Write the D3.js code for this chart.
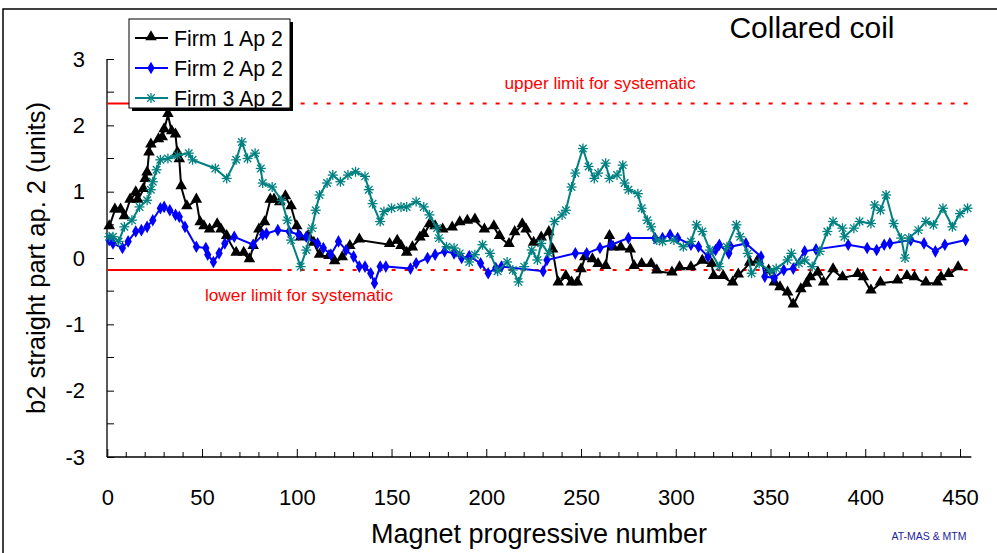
<!DOCTYPE html>
<html><head><meta charset="utf-8">
<script src="https://cdn.jsdelivr.net/npm/d3@7"></script>
<style>body{margin:0;background:#fff}svg{display:block;font-family:"Liberation Sans",Arial,sans-serif}</style>
</head><body><svg id="c" width="997" height="553"></svg>
<script>
const seriesNames = ["Firm 1 Ap 2","Firm 2 Ap 2","Firm 3 Ap 2"];
const seriesColors = ["#000000","#0000ff","#008080"];
const xTicks = [0,50,100,150,200,250,300,350,400,450];
const yTicks = [-3,-2,-1,0,1,2,3];
const upperLimit = 2.33, lowerLimit = -0.18, limitSolidEnd = 92, limitEnd = 456;

const firm1X = [1,4,7,9,12,15,16,19,20,21,22,23,27,29,30,32,34,36,37,38,39,42,47,49,51,54,58,60,63,68,72,75,77,80,83,86,88,91,94,97,100,102,106,109,112,117,120,124,128,133,149,153,155,158,161,165,167,170,173,177,182,186,190,194,199,204,207,212,215,219,221,225,229,233,235,238,242,245,248,250,252,256,259,263,265,267,271,276,278,282,287,290,298,302,308,314,319,320,325,330,333,339,343,349,352,355,359,362,366,369,371,375,378,383,388,396,399,403,408,417,422,426,432,438,440,444,449];
const firm1Y = [0.47,0.72,0.72,0.62,0.87,0.98,0.87,1.03,1.18,1.28,1.58,1.7,1.78,1.81,1.93,2.16,1.9,1.85,1.58,1.48,1.07,0.77,0.87,0.53,0.47,0.42,0.5,0.42,0.32,0.07,0.07,-0.03,0.17,0.42,0.53,0.87,0.87,0.83,0.92,0.77,0.47,0.3,0.32,0.22,0.04,0.02,-0.06,0.0,0.17,0.27,0.2,0.25,0.17,0.07,0.15,0.3,0.35,0.5,0.47,0.42,0.45,0.53,0.55,0.57,0.42,0.47,0.32,0.2,0.38,0.5,0.42,0.22,0.3,0.38,0.12,-0.38,-0.28,-0.38,-0.38,-0.18,0.0,-0.03,-0.1,-0.13,0.32,0.15,0.15,0.12,-0.13,-0.1,-0.1,-0.2,-0.23,-0.15,-0.15,-0.05,-0.1,-0.28,-0.28,-0.38,-0.26,-0.08,-0.06,-0.2,-0.38,-0.45,-0.53,-0.71,-0.48,-0.4,-0.3,-0.23,-0.38,-0.18,-0.3,-0.25,-0.3,-0.5,-0.38,-0.35,-0.28,-0.3,-0.38,-0.38,-0.3,-0.25,-0.15];

const firm2X = [1,3,8,11,15,18,21,24,28,30,33,36,38,41,47,52,53,56,59,62,67,77,82,84,90,96,101,105,111,114,118,122,126,130,133,136,139,141,144,147,160,163,169,173,178,183,187,191,197,201,205,208,230,232,247,253,260,266,275,289,293,297,301,308,312,317,321,323,328,329,337,345,347,352,357,362,368,374,391,401,406,410,413,424,431,437,442,453];
const firm2Y = [0.27,0.22,0.15,0.25,0.4,0.42,0.47,0.57,0.75,0.77,0.72,0.65,0.62,0.47,0.17,0.15,0.05,-0.06,0.07,0.22,0.32,0.2,0.35,0.37,0.42,0.4,0.35,0.32,0.22,0.15,0.05,0.25,0.12,0.02,-0.13,-0.13,-0.23,-0.38,-0.13,-0.13,-0.16,-0.08,0.0,0.05,0.1,0.07,0.0,0.03,-0.08,-0.23,-0.15,-0.13,-0.2,-0.03,0.07,0.07,0.15,0.2,0.3,0.3,0.3,0.35,0.3,0.2,0.17,0.02,0.12,0.2,0.07,0.17,0.22,0.02,-0.28,-0.3,-0.18,-0.16,0.1,0.13,0.2,0.15,0.12,0.2,0.22,0.27,0.22,0.1,0.2,0.27];

const firm3X = [1,3,6,9,13,17,21,23,24,26,28,32,37,43,45,57,63,68,71,74,78,81,82,87,92,95,97,102,105,108,110,112,116,119,123,127,131,136,138,140,144,146,150,155,158,163,167,170,174,175,179,183,186,191,194,198,202,206,211,214,217,220,224,227,229,233,236,240,242,245,247,251,254,257,259,263,265,269,272,273,275,280,282,285,287,290,293,299,304,308,311,314,318,323,327,332,334,338,340,344,350,353,359,361,365,368,372,376,380,383,388,389,394,397,403,405,408,411,415,419,421,423,428,432,436,441,446,450,454];
const firm3Y = [0.32,0.32,0.25,0.47,0.57,0.77,0.87,1.03,1.15,1.33,1.48,1.5,1.55,1.58,1.48,1.35,1.2,1.48,1.75,1.5,1.58,1.35,1.13,1.07,0.87,0.57,0.27,-0.13,0.12,0.45,0.72,0.95,1.13,1.25,1.15,1.25,1.3,1.23,1.03,0.82,0.55,0.7,0.75,0.77,0.77,0.85,0.77,0.65,0.45,0.3,0.17,0.15,0.07,-0.06,0.05,0.2,0.07,-0.2,-0.06,-0.18,-0.36,-0.13,0.12,-0.03,0.22,0.07,0.55,0.65,0.72,1.07,1.28,1.65,1.38,1.2,1.28,1.43,1.2,1.25,1.4,1.13,1.03,0.97,0.75,0.57,0.47,0.27,0.25,0.27,0.17,0.25,0.5,0.4,0.12,-0.13,0.17,0.5,0.32,0.07,-0.23,-0.08,-0.2,-0.16,-0.03,0.07,-0.08,-0.03,-0.13,0.1,0.4,0.55,0.45,0.32,0.45,0.55,0.52,0.8,0.72,0.95,0.52,0.3,0.0,0.3,0.42,0.55,0.5,0.75,0.47,0.67,0.75];

const seriesX = [firm1X, firm2X, firm3X];
const seriesY = [firm1Y, firm2Y, firm3Y];

const svg = d3.select("#c");
const x = d3.scaleLinear().domain([0,450]).range([107.3,960]);
const y = d3.scaleLinear().domain([-3,3]).range([457,59]);
const fmt = d => String(d);

// outer frame
svg.append("rect").attr("x",3).attr("y",9).attr("width",1100).attr("height",700)
  .attr("fill","none").attr("stroke","#000").attr("stroke-width",1.5);

// axes
const yAxis = d3.axisLeft(y).tickValues(yTicks).tickSizeInner(-7).tickSizeOuter(0).tickPadding(22).tickFormat(fmt);
const gy = svg.append("g").attr("transform","translate(107,0)").call(yAxis);
gy.select(".domain").remove();
gy.selectAll("text").attr("font-size",22).attr("fill","#000").attr("font-family","Liberation Sans, Arial, sans-serif");
svg.append("g").selectAll("line").data(d3.range(-2.5,3,1)).join("line")
  .attr("x1",107).attr("x2",114).attr("y1",d=>y(d)).attr("y2",d=>y(d)).attr("stroke","#000");
svg.append("line").attr("x1",107).attr("x2",107).attr("y1",y(3)).attr("y2",y(-3)).attr("stroke","#000").attr("stroke-width",1.3);

const xAxis = d3.axisBottom(x).tickValues(xTicks).tickSizeInner(-8).tickSizeOuter(0).tickPadding(32).tickFormat(fmt);
const gx = svg.append("g").attr("transform",`translate(0,${y(-3)})`).call(xAxis);
gx.select(".domain").remove();
gx.selectAll("text").attr("font-size",22).attr("fill","#000").attr("font-family","Liberation Sans, Arial, sans-serif");
svg.append("g").selectAll("line").data(d3.range(10,460,10).filter(v=>v%50!==0)).join("line")
  .attr("x1",d=>x(d)).attr("x2",d=>x(d)).attr("y1",y(-3)).attr("y2",y(-3)-5).attr("stroke","#000");
svg.append("line").attr("x1",107).attr("x2",x(456)).attr("y1",y(-3)).attr("y2",y(-3)).attr("stroke","#000").attr("stroke-width",1.3);

// limit lines
[upperLimit, lowerLimit].forEach(v=>{
  svg.append("line").attr("x1",x(0)).attr("x2",x(limitSolidEnd)).attr("y1",y(v)).attr("y2",y(v))
    .attr("stroke","#ff0000").attr("stroke-width",2);
  svg.append("line").attr("x1",x(limitSolidEnd)+6).attr("x2",x(limitEnd)).attr("y1",y(v)).attr("y2",y(v))
    .attr("stroke","#ff0000").attr("stroke-width",2).attr("stroke-dasharray","4 9");
});
svg.append("text").attr("x",600).attr("y",89).attr("text-anchor","middle").attr("font-size",17.3).attr("fill","#ff0000").text("upper limit for systematic");
svg.append("text").attr("x",299).attr("y",301).attr("text-anchor","middle").attr("font-size",17.3).attr("fill","#ff0000").text("lower limit for systematic");

// series
const line = d3.line().x(d=>x(d[0])).y(d=>y(d[1]));
const tri = d3.symbol().type(d3.symbolTriangle).size(58);
const dia = d3.symbol().type(d3.symbolDiamond).size(46);
function drawMarker(g, kind, color, px, py){
  if(kind===0){ g.append("path").attr("d",tri()).attr("transform",`translate(${px},${py-1})`).attr("fill",color); }
  else if(kind===1){ g.append("path").attr("d",dia()).attr("transform",`translate(${px},${py})`).attr("fill",color); }
  else {
    const r=5, s=g.append("g").attr("transform",`translate(${px},${py})`).attr("stroke",color).attr("stroke-width",1.3);
    s.append("line").attr("x1",-r).attr("x2",r).attr("y1",0).attr("y2",0);
    s.append("line").attr("x1",0).attr("x2",0).attr("y1",-r).attr("y2",r);
    s.append("line").attr("x1",-r*0.75).attr("x2",r*0.75).attr("y1",-r*0.75).attr("y2",r*0.75);
    s.append("line").attr("x1",-r*0.75).attr("x2",r*0.75).attr("y1",r*0.75).attr("y2",-r*0.75);
  }
}
seriesX.forEach((xs,i)=>{
  const data = xs.map((v,j)=>[v, seriesY[i][j]]);
  const g = svg.append("g");
  g.append("path").datum(data).attr("d",line).attr("fill","none").attr("stroke",seriesColors[i]).attr("stroke-width",2);
  data.forEach(d=>drawMarker(g,i,seriesColors[i],x(d[0]),y(d[1])));
});

// legend
const lg = svg.append("g");
lg.append("rect").attr("x",132).attr("y",22).attr("width",161).attr("height",89).attr("fill","#000");
lg.append("rect").attr("x",129).attr("y",19).attr("width",161).attr("height",89).attr("fill","#fff").attr("stroke","#000").attr("stroke-width",1);
seriesNames.forEach((n,i)=>{
  const cy = 38 + i*30;
  lg.append("line").attr("x1",135).attr("x2",168).attr("y1",cy).attr("y2",cy).attr("stroke",seriesColors[i]).attr("stroke-width",2);
  drawMarker(lg,i,seriesColors[i],151,cy);
  lg.append("text").attr("x",174).attr("y",cy).attr("dy","0.36em").attr("font-size",21.3).attr("fill","#000").text(n);
});

// titles
svg.append("text").attr("x",812).attr("y",38).attr("text-anchor","middle").attr("font-size",30).attr("fill","#000").text("Collared coil");
svg.append("text").attr("x",539).attr("y",543).attr("text-anchor","middle").attr("font-size",27).attr("fill","#000").text("Magnet progressive number");
svg.append("text").attr("transform","translate(45,258) rotate(-90)").attr("text-anchor","middle").attr("font-size",25.5).attr("fill","#000").text("b2 straight part ap. 2 (units)");
svg.append("text").attr("x",929).attr("y",540).attr("text-anchor","middle").attr("font-size",10.5).attr("fill","#1c1c9c").text("AT-MAS & MTM");
</script></body></html>
